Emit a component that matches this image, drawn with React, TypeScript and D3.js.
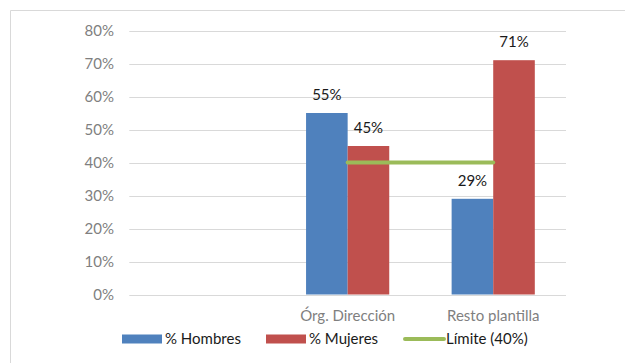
import React from "react";
import * as d3 from "d3";

// Categories on the x axis (the first slot is intentionally left blank)
const categories = ["", "Órg. Dirección", "Resto plantilla"];
const seriesNames = ["% Hombres", "% Mujeres"];
const hombres = [null, 0.55, 0.29];
const mujeres = [null, 0.45, 0.71];
const limite = [null, 0.4, 0.4];
const limiteName = "Límite (40%)";
const yTicks = [0, 0.1, 0.2, 0.3, 0.4, 0.5, 0.6, 0.7, 0.8];

const W = 625;
const H = 363;
const COLORS = ["#4f81bd", "#c0504d"];
const LINE_COLOR = "#9bbb59";
const FONT = "Lato, 'Open Sans', sans-serif";
const FS = 15;

export default function App() {
  const x = d3.scaleBand<string>().domain(categories).range([129.3, 566]).padding(0);
  const x1 = d3
    .scaleBand<string>()
    .domain(seriesNames)
    .range([0, x.bandwidth()])
    .paddingInner(0)
    .paddingOuter(0.75);
  const y = d3.scaleLinear().domain([0, 0.8]).range([294.5, 30.5]);
  const pct = d3.format(".0%");

  const series = [hombres, mujeres];

  const linePts = categories
    .map((c, i) => ({ c, v: limite[i] }))
    .filter((d) => d.v != null);
  const line = d3
    .line<{ c: string; v: number | null }>()
    .x((d) => (x(d.c) as number) + x.bandwidth() / 2)
    .y((d) => y(d.v as number));

  const legendItems = [
    { kind: "bar", color: COLORS[0], label: seriesNames[0], x: 122 },
    { kind: "bar", color: COLORS[1], label: seriesNames[1], x: 266 },
    { kind: "line", color: LINE_COLOR, label: limiteName, x: 403 },
  ];
  const legendY = 339;

  return (
    <svg
      width={W}
      height={H}
      style={{ position: "absolute", left: 0, top: 0, background: "#fff" }}
      fontFamily={FONT}
    >
      {/* chart frame (top and left edges are within view) */}
      <line x1={10.5} y1={10.5} x2={W} y2={10.5} stroke="#d9d9d9" />
      <line x1={10.5} y1={10.5} x2={10.5} y2={H} stroke="#d9d9d9" />

      {/* gridlines and y labels */}
      {yTicks.map((t) => (
        <g key={t}>
          <line
            x1={x.range()[0]}
            x2={x.range()[1]}
            y1={Math.round(y(t)) + 0.5}
            y2={Math.round(y(t)) + 0.5}
            stroke="#d9d9d9"
          />
          <text
            x={114}
            y={y(t)}
            dy="0.35em"
            textAnchor="end"
            fontSize={FS}
            fill="#7f7f7f"
          >
            {pct(t)}
          </text>
        </g>
      ))}

      {/* bars */}
      {series.map((vals, si) =>
        categories.map((c, ci) => {
          const v = vals[ci];
          if (v == null) return null;
          const bx = (x(c) as number) + (x1(seriesNames[si]) as number);
          return (
            <g key={`${si}-${ci}`}>
              <rect
                x={bx}
                y={y(v)}
                width={x1.bandwidth()}
                height={y(0) - y(v)}
                fill={COLORS[si]}
              />
              <text
                x={bx + x1.bandwidth() / 2}
                y={y(v) - 13}
                textAnchor="middle"
                fontSize={FS}
                fill="#1a1a1a"
              >
                {pct(v)}
              </text>
            </g>
          );
        })
      )}

      {/* limit line */}
      <path
        d={line(linePts) || ""}
        fill="none"
        stroke={LINE_COLOR}
        strokeWidth={4}
        strokeLinecap="round"
      />

      {/* category labels */}
      {categories.map((c) => (
        <text
          key={c || "blank"}
          x={(x(c) as number) + x.bandwidth() / 2}
          y={316}
          dy="0.35em"
          textAnchor="middle"
          fontSize={FS}
          fill="#7f7f7f"
        >
          {c}
        </text>
      ))}

      {/* legend */}
      {legendItems.map((it) => (
        <g key={it.label}>
          {it.kind === "bar" ? (
            <rect x={it.x} y={legendY - 4.5} width={40} height={9} fill={it.color} />
          ) : (
            <line
              x1={it.x + 2}
              x2={it.x + 41}
              y1={legendY}
              y2={legendY}
              stroke={it.color}
              strokeWidth={4}
              strokeLinecap="round"
            />
          )}
          <text
            x={it.x + 43}
            y={legendY}
            dy="0.35em"
            fontSize={FS}
            fill="#1a1a1a"
          >
            {it.label}
          </text>
        </g>
      ))}
    </svg>
  );
}
